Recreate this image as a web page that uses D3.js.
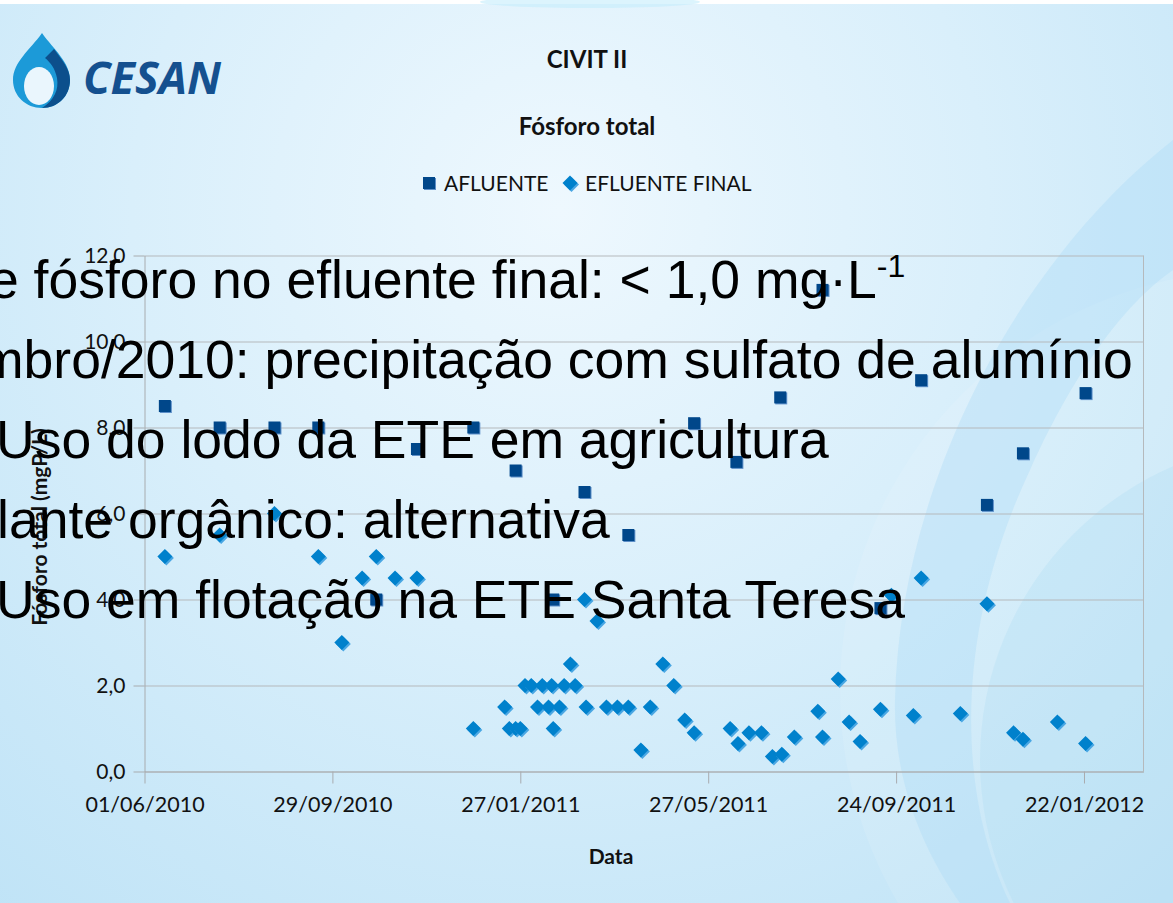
<!DOCTYPE html>
<html>
<head>
<meta charset="utf-8">
<script src="https://cdn.jsdelivr.net/npm/d3@7"></script>
<style>
  html, body { margin: 0; padding: 0; overflow: hidden; background: #d6eefb; }
  svg { display: block; }
</style>
</head>
<body>
<svg id="slide"></svg>
<script>
// slide size
var W = 1173, H = 903;

// chart data
var afluenteDates = ['2010-06-14','2010-07-19','2010-08-23','2010-09-20','2010-10-27','2010-11-22','2010-12-28',
  '2011-01-24','2011-02-17','2011-03-09','2011-04-06','2011-05-18','2011-06-14','2011-07-12','2011-08-08',
  '2011-09-14','2011-10-10','2011-11-21','2011-12-14','2012-01-23'];
var afluenteValues = [8.5, 8.0, 8.0, 8.0, 4.0, 7.5, 8.0, 7.0, 4.0, 6.5, 5.5, 8.1, 7.2, 8.7, 11.2, 3.8, 9.1, 6.2, 7.4, 8.8];

var efluenteDates = ['2010-06-14','2010-07-19','2010-08-23','2010-09-20','2010-10-05','2010-10-18','2010-10-27',
  '2010-11-08','2010-11-22','2010-12-28','2011-01-17','2011-01-20','2011-01-24','2011-01-27','2011-01-30',
  '2011-02-03','2011-02-07','2011-02-10','2011-02-14','2011-02-16','2011-02-17','2011-02-21','2011-02-24',
  '2011-02-28','2011-03-03','2011-03-09','2011-03-10','2011-03-17','2011-03-23','2011-03-30','2011-04-06',
  '2011-04-14','2011-04-20','2011-04-28','2011-05-05','2011-05-12','2011-05-18','2011-06-10','2011-06-15',
  '2011-06-22','2011-06-30','2011-07-07','2011-07-13','2011-07-21','2011-08-05','2011-08-08','2011-08-18',
  '2011-08-25','2011-09-01','2011-09-14','2011-09-21','2011-10-05','2011-10-10','2011-11-04','2011-11-21',
  '2011-12-08','2011-12-14','2012-01-05','2012-01-23'];
var efluenteValues = [5.0, 5.5, 6.0, 5.0, 3.0, 4.5, 5.0,
  4.5, 4.5, 1.0, 1.5, 1.0, 1.0, 1.0, 2.0,
  2.0, 1.5, 2.0, 1.5, 2.0, 1.0, 1.5, 2.0,
  2.5, 2.0, 4.0, 1.5, 3.5, 1.5, 1.5, 1.5,
  0.5, 1.5, 2.5, 2.0, 1.2, 0.9, 1.0, 0.65,
  0.9, 0.9, 0.35, 0.4, 0.8, 1.4, 0.8, 2.15,
  1.15, 0.7, 1.45, 4.1, 1.3, 4.5, 1.35, 3.9,
  0.9, 0.75, 1.15, 0.65];

var xTickDates = ['2010-06-01','2010-09-29','2011-01-27','2011-05-27','2011-09-24','2012-01-22'];
var xDomain = ['2010-06-01','2012-02-29'];
var yTicks = [0, 2, 4, 6, 8, 10, 12];

var bulletLines = [
  { text: 'e fósforo no efluente final: < 1,0 mg·L', sup: '-1', x: -11 },
  { text: 'mbro/2010: precipitação com sulfato de alumínio', x: -21 },
  { text: 'Uso do lodo da ETE em agricultura', x: -4 },
  { text: 'lante orgânico: alternativa', x: -3 },
  { text: 'Uso em flotação na ETE Santa Teresa', x: -4 }
];

var parseDate = d3.timeParse('%Y-%m-%d');
var chartFont = 'Lato, "Open Sans", sans-serif';

var svg = d3.select('#slide').attr('width', W).attr('height', H);
var defs = svg.append('defs');

// ---- slide background ----
var bg = defs.append('radialGradient').attr('id', 'bgGrad')
  .attr('gradientUnits', 'userSpaceOnUse')
  .attr('cx', 560).attr('cy', 210).attr('r', 950);
bg.append('stop').attr('offset', 0).attr('stop-color', '#eef8fe');
bg.append('stop').attr('offset', 0.45).attr('stop-color', '#d9effb');
bg.append('stop').attr('offset', 1).attr('stop-color', '#bde2f6');

svg.append('rect').attr('width', W).attr('height', H).attr('fill', 'url(#bgGrad)');

// swoosh on the right side
svg.append('circle').attr('cx', 1260).attr('cy', 690).attr('r', 420)
  .attr('fill', '#ffffff').attr('opacity', 0.10);
svg.append('circle').attr('cx', 1300).attr('cy', 760).attr('r', 320)
  .attr('fill', '#9fd6f3').attr('opacity', 0.22);
svg.append('path')
  .attr('d', 'M1173,140 C1020,260 900,480 895,700 C893,790 930,860 960,903 L1010,903 C960,800 950,640 1030,470 C1080,360 1130,300 1173,270 Z')
  .attr('fill', '#a9dbf5').attr('opacity', 0.35);

// white strip on top, with faint glow at the centre
svg.append('rect').attr('width', W).attr('height', 4).attr('fill', '#ffffff');
svg.append('ellipse').attr('cx', 590).attr('cy', 2).attr('rx', 110).attr('ry', 6)
  .attr('fill', '#c4ecfb').attr('opacity', 0.6);

// ---- CESAN logo ----
var logo = svg.append('g').attr('class', 'logo');
logo.append('path')
  .attr('d', 'M42,33 C30,50 13,62 13,80 C13,96 26,108 42,108 C58,108 70,96 70,80 C70,62 54,50 42,33 Z')
  .attr('fill', '#1c9ad8');
logo.append('path')
  .attr('d', 'M54,49 C62,60 70,69 70,80 C70,96 58,108 42,108 C54,100 59,90 57,78 C55,68 50,62 45,58 Z')
  .attr('fill', '#0c4f8c');
logo.append('ellipse').attr('cx', 39).attr('cy', 86).attr('rx', 15).attr('ry', 19).attr('fill', '#eaf6fd');
logo.append('text')
  .attr('x', 83).attr('y', 94)
  .attr('font-family', '"Open Sans", sans-serif')
  .attr('font-weight', 'bold').attr('font-style', 'italic')
  .attr('font-size', 45).attr('fill', '#14508f')
  .text('CESAN');

// ---- chart ----
var x = d3.scaleTime()
  .domain(xDomain.map(parseDate))
  .range([144.5, 1143.5]);

var y = d3.scaleLinear()
  .domain([0, 12])
  .range([771.5, 255.5]);

var fmtY = function (d) { return d3.format('.1f')(d).replace('.', ','); };

// gridlines
svg.append('g')
  .attr('class', 'grid')
  .attr('transform', 'translate(144.5,0)')
  .call(d3.axisLeft(y).tickValues(yTicks).tickSize(-999).tickFormat(''))
  .call(g => g.select('.domain').remove())
  .call(g => g.selectAll('line').attr('stroke', '#b5b9bc'));

// plot area right border
svg.append('line')
  .attr('x1', 1143.5).attr('x2', 1143.5).attr('y1', 255.5).attr('y2', 771.5)
  .attr('stroke', '#b5b9bc');

// y axis
svg.append('g')
  .attr('class', 'axis y-axis')
  .attr('transform', 'translate(144.5,0)')
  .call(d3.axisLeft(y).tickValues(yTicks).tickSize(11).tickSizeOuter(0).tickPadding(8).tickFormat(fmtY))
  .call(g => g.select('.domain').attr('stroke', '#a8acaf'))
  .call(g => g.selectAll('line').attr('stroke', '#a8acaf'))
  .call(g => g.selectAll('text')
    .attr('font-family', chartFont).attr('font-size', 21).attr('fill', '#111'));

// x axis
svg.append('g')
  .attr('class', 'axis x-axis')
  .attr('transform', 'translate(0,771.5)')
  .call(d3.axisBottom(x).tickValues(xTickDates.map(parseDate)).tickSize(12).tickSizeOuter(0)
    .tickPadding(13).tickFormat(d3.timeFormat('%d/%m/%Y')))
  .call(g => g.select('.domain').attr('stroke', '#a8acaf'))
  .call(g => g.selectAll('line').attr('stroke', '#a8acaf'))
  .call(g => g.selectAll('text')
    .attr('font-family', chartFont).attr('font-size', 21.5).attr('fill', '#111'));

// axis titles
svg.append('text')
  .attr('x', 611).attr('y', 864)
  .attr('text-anchor', 'middle')
  .attr('font-family', chartFont).attr('font-weight', 'bold').attr('font-size', 21)
  .attr('fill', '#111')
  .text('Data');

svg.append('text')
  .attr('transform', 'translate(47,527) rotate(-90)')
  .attr('text-anchor', 'middle')
  .attr('font-family', chartFont).attr('font-weight', 'bold').attr('font-size', 21)
  .attr('fill', '#111')
  .text('Fósforo total (mgP/L)');

// titles
svg.append('text')
  .attr('x', 587).attr('y', 68)
  .attr('text-anchor', 'middle')
  .attr('font-family', chartFont).attr('font-weight', 'bold').attr('font-size', 24)
  .attr('fill', '#111')
  .text('CIVIT II');

svg.append('text')
  .attr('x', 587).attr('y', 135)
  .attr('text-anchor', 'middle')
  .attr('font-family', chartFont).attr('font-weight', 'bold').attr('font-size', 24)
  .attr('fill', '#111')
  .text('Fósforo total');

// marker helpers
function drawSquare(g, cx, cy) {
  g.append('rect').attr('x', cx - 5).attr('y', cy - 5).attr('width', 12).attr('height', 12)
    .attr('fill', '#5d8fc8');
  g.append('rect').attr('x', cx - 6).attr('y', cy - 6).attr('width', 12).attr('height', 12)
    .attr('fill', '#00478a');
}
function drawDiamond(g, cx, cy) {
  var r = 7.5;
  var p = function (dx) {
    return [[cx + dx, cy - r + dx], [cx + r + dx, cy + dx], [cx + dx, cy + r + dx], [cx - r + dx, cy + dx]].join(' ');
  };
  g.append('polygon').attr('points', p(1.5)).attr('fill', '#4aa7e3');
  g.append('polygon').attr('points', p(0)).attr('fill', '#0081cc');
}

// series
var afluente = afluenteDates.map((d, i) => ({ date: parseDate(d), value: afluenteValues[i] }));
var efluente = efluenteDates.map((d, i) => ({ date: parseDate(d), value: efluenteValues[i] }));

var afG = svg.append('g').attr('class', 'series afluente');
afluente.forEach(d => drawSquare(afG, x(d.date), y(d.value)));

var efG = svg.append('g').attr('class', 'series efluente');
efluente.forEach(d => drawDiamond(efG, x(d.date), y(d.value)));

// legend
var legend = svg.append('g').attr('class', 'legend');
drawSquare(legend, 429, 183);
legend.append('text')
  .attr('x', 444).attr('y', 191)
  .attr('font-family', chartFont).attr('font-size', 21).attr('fill', '#111')
  .text('AFLUENTE');
drawDiamond(legend, 570, 183);
legend.append('text')
  .attr('x', 585).attr('y', 191)
  .attr('font-family', chartFont).attr('font-size', 21).attr('fill', '#111')
  .text('EFLUENTE FINAL');

// ---- bullet text laid over the chart ----
var bullets = svg.append('g').attr('class', 'bullets')
  .attr('font-family', '"Liberation Sans", Arial, sans-serif')
  .attr('font-size', 53.5).attr('fill', '#000');

bulletLines.forEach(function (line, i) {
  var t = bullets.append('text')
    .attr('x', line.x).attr('y', 298 + i * 80)
    .text(line.text);
  if (line.sup) {
    t.append('tspan')
      .attr('dy', -21).attr('font-size', 32)
      .text(line.sup);
  }
});
</script>
</body>
</html>
